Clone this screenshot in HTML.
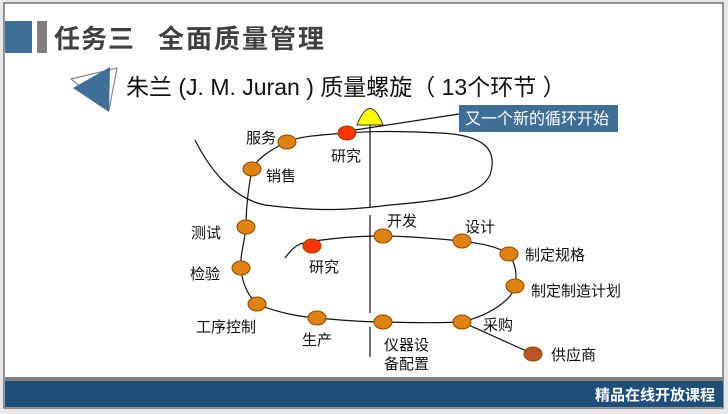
<!DOCTYPE html>
<html><head><meta charset="utf-8"><style>
body{margin:0;width:728px;height:414px;background:#e6e6e6;overflow:hidden;font-family:"Liberation Sans","Noto Sans CJK SC",sans-serif}
</style></head><body>
<svg width="728" height="414" xmlns="http://www.w3.org/2000/svg" style="position:absolute;left:0;top:0" font-family="Liberation Sans, Noto Sans CJK SC, sans-serif">
<rect x="4" y="3" width="719" height="405" fill="#fff" stroke="#333" stroke-width="1"/>
<rect x="5" y="21" width="27" height="32" fill="#3f6f96"/>
<rect x="37" y="21" width="10" height="32" fill="#808080"/>
<text x="54" y="48" font-size="26" font-weight="bold" fill="#404040" letter-spacing="1">任务三</text>
<text x="158" y="48" font-size="26" font-weight="bold" fill="#404040" letter-spacing="2">全面质量管理</text>
<polygon points="71,79 117,68 109,110" fill="none" stroke="#888" stroke-width="1.2"/>
<polygon points="73,88 110,67 109,112" fill="#3f6f96"/>
<text x="126" y="95" font-size="23" fill="#111">朱兰 (J. M. Juran ) 质量螺旋（ 13个环节 ）</text>
<g fill="none" stroke="#111" stroke-width="1.2">
<path d="M195,140 C215,180 240,200 265,205 C320,212 350,210 390,205 C450,200 480,195 490,175 C498,150 485,135 440,133 C400,131 370,131 347,133 C320,135 300,136 287,142 C270,150 258,158 252,169 C248,190 246,210 246,227 C244,245 240,255 241,268 C242,285 250,298 257,304 C275,312 300,317 317,318 C340,320 360,322 383,322 C420,323 440,323 462,322 C490,315 512,300 515,286 C518,272 514,262 509,254 C495,245 475,243 462,241 C430,238 400,236 383,236 C350,236 315,240 300,244 C292,248 288,254 285,258"/>
<line x1="462" y1="322" x2="533" y2="354"/>
<line x1="370" y1="125" x2="370" y2="207"/>
<line x1="370" y1="215" x2="370" y2="313"/>
<line x1="370" y1="327" x2="370" y2="357"/>
<line x1="355" y1="130" x2="459" y2="114"/>
</g>
<path d="M357,125 Q370,92 383,125 Z" fill="#ffff00" stroke="#333" stroke-width="1"/>
<rect x="459" y="105" width="159" height="27" fill="#3f6f96"/>
<text x="465" y="124" font-size="16" fill="#fff">又一个新的循环开始</text>
<g stroke="#8a4a00" stroke-width="1" fill="#e0820f">
<ellipse cx="287" cy="142" rx="9" ry="7"/>
<ellipse cx="252" cy="169" rx="9" ry="7"/>
<ellipse cx="246" cy="227" rx="9" ry="7"/>
<ellipse cx="241" cy="268" rx="9" ry="7"/>
<ellipse cx="257" cy="304" rx="9" ry="7"/>
<ellipse cx="317" cy="318" rx="9" ry="7"/>
<ellipse cx="383" cy="322" rx="9" ry="7"/>
<ellipse cx="462" cy="322" rx="9" ry="7"/>
<ellipse cx="515" cy="286" rx="9" ry="7"/>
<ellipse cx="509" cy="254" rx="9" ry="7"/>
<ellipse cx="462" cy="241" rx="9" ry="7"/>
<ellipse cx="383" cy="236" rx="9" ry="7"/>
<ellipse cx="533" cy="354" rx="9" ry="7" fill="#b8562a"/>
<ellipse cx="347" cy="133" rx="9" ry="7" fill="#ff3300"/>
<ellipse cx="312" cy="246" rx="9" ry="7" fill="#ff3300"/>
</g>
<g font-size="15" fill="#111">
<text x="246" y="143">服务</text>
<text x="331" y="161">研究</text>
<text x="266" y="181">销售</text>
<text x="191" y="238">测试</text>
<text x="190" y="279">检验</text>
<text x="196" y="332">工序控制</text>
<text x="302" y="345">生产</text>
<text x="384" y="350">仪器设</text>
<text x="384" y="369">备配置</text>
<text x="483" y="330">采购</text>
<text x="551" y="360">供应商</text>
<text x="531" y="296">制定制造计划</text>
<text x="525" y="260">制定规格</text>
<text x="465" y="232">设计</text>
<text x="387" y="226">开发</text>
<text x="309" y="272">研究</text>
</g>
<rect x="5" y="377" width="718" height="4" fill="#808080"/>
<rect x="5" y="381" width="718" height="26" fill="#1f4e79"/>
<text x="715" y="400" font-size="15" font-weight="bold" fill="#fff" text-anchor="end">精品在线开放课程</text>
</svg>
</body></html>
